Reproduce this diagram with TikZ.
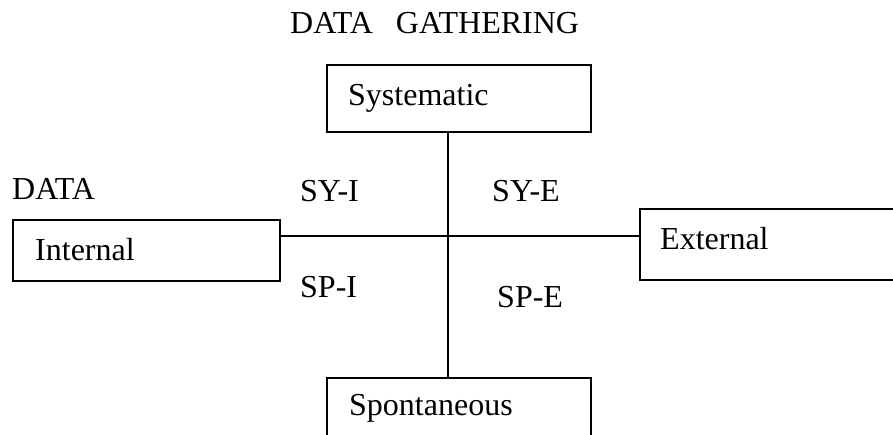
\documentclass[tikz,border=0pt]{standalone}
\usepackage{fontspec}
\setmainfont{Liberation Serif}
\begin{document}
\begin{tikzpicture}[x=1pt,y=-1pt,
  box/.style={draw,line width=1.4pt,rectangle,inner sep=0pt},
  txt/.style={anchor=base west,inner sep=0pt,font=\fontsize{32}{38}\selectfont},
  conn/.style={line width=1.4pt}]
\useasboundingbox (0,0) rectangle (893,434);
\clip (0,0) rectangle (893,434);
\fill[white] (0,0) rectangle (893,434);
% boxes
\node[box,minimum width=264pt,minimum height=67pt] (sys) at (459,98.5) {};
\node[box,minimum width=267pt,minimum height=61pt] (int) at (146.5,250.5) {};
\node[box,minimum width=270pt,minimum height=71pt] (ext) at (775,244.5) {};
\node[box,minimum width=264pt,minimum height=90pt] (spo) at (459,423) {};
% crossing point
\coordinate (c) at (448,236);
\draw[conn] (c |- sys.south) -- (c |- spo.north);
\draw[conn] (int.east |- c) -- (ext.west |- c);
% texts
\node[txt] (title) at (290,33) {DATA\ \hspace{7pt}\ GATHERING};
\node[txt] (tsys) at (348,105) {Systematic};
\node[txt] (tdata) at (12,199) {DATA};
\node[txt] (tint) at (35,260) {Internal};
\node[txt] (text) at (660,249) {External};
\node[txt] (tspo) at (349,415) {Spontaneous};
\node[txt] (syi) at (300,201) {SY-I};
\node[txt] (sye) at (492,201) {SY-E};
\node[txt] (spi) at (300,297) {SP-I};
\node[txt] (spe) at (497,307) {SP-E};
\end{tikzpicture}
\end{document}
